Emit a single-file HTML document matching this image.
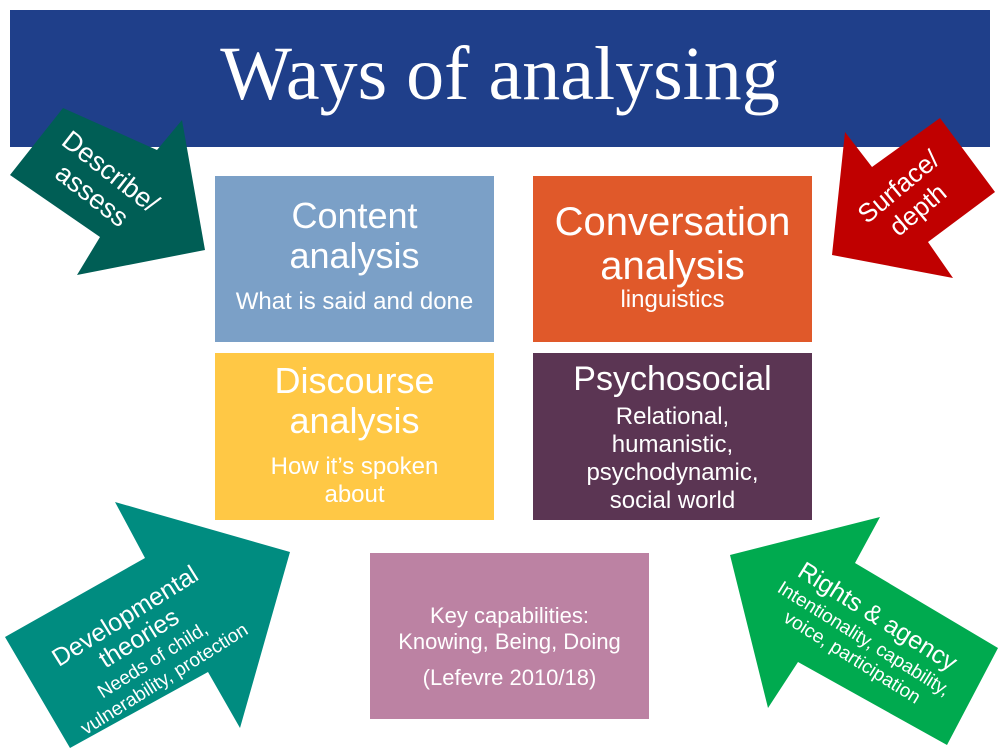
<!DOCTYPE html>
<html><head><style>
body{margin:0;width:1000px;height:750px;background:#fff;overflow:hidden;position:relative;font-family:"Liberation Sans",sans-serif}
.b{position:absolute;color:#fff;text-align:center;box-sizing:border-box}
</style></head><body>
<div class="b" style="left:10px;top:10px;width:980px;height:137px;background:#1F3F8A;font-family:'Liberation Serif',serif;font-size:76px;line-height:128px">Ways of analysing</div>
<div class="b" style="left:215px;top:176px;width:279px;height:166px;background:#7BA0C7;padding-top:20px"><div style="font-size:36px;line-height:40px">Content<br>analysis</div><div style="font-size:24px;margin-top:12px">What is said and done</div></div>
<div class="b" style="left:533px;top:176px;width:279px;height:166px;background:#E0592A;padding-top:24px"><div style="font-size:40px;line-height:44px">Conversation<br>analysis</div><div style="font-size:24px;margin-top:-2px">linguistics</div></div>
<div class="b" style="left:215px;top:353px;width:279px;height:167px;background:#FFC845;padding-top:8px"><div style="font-size:36px;line-height:40px">Discourse<br>analysis</div><div style="font-size:24px;line-height:28px;margin-top:12px">How it’s spoken<br>about</div></div>
<div class="b" style="left:533px;top:353px;width:279px;height:167px;background:#5B3553;padding-top:6px"><div style="font-size:34px;line-height:40px">Psychosocial</div><div style="font-size:24px;line-height:28px;margin-top:4px">Relational,<br>humanistic,<br>psychodynamic,<br>social world</div></div>
<div class="b" style="left:370px;top:553px;width:279px;height:166px;background:#BC82A3;padding-top:50px;font-size:22px;line-height:26px">Key capabilities:<br>Knowing, Being, Doing<div style="margin-top:10px">(Lefevre 2010/18)</div></div>
<svg width="1000" height="750" style="position:absolute;left:0;top:0" font-family="Liberation Sans, sans-serif" fill="#fff">
<polygon points="10,175 63,108 157,150 182,120 205,250 77,275 100,237" fill="#005E55"/>
<text transform="translate(100,185) rotate(38)" text-anchor="middle" font-size="27" fill="#fff"><tspan x="0" y="-8">Describe/</tspan><tspan x="0" y="22">assess</tspan></text>
<polygon points="845,132 872,167 940,118 995,192 928,242 953,278 832,255" fill="#C00000"/>
<text transform="translate(908,198) rotate(-40)" text-anchor="middle" font-size="26" fill="#fff"><tspan x="0" y="-6">Surface/</tspan><tspan x="0" y="24">depth</tspan></text>
<polygon points="5,637 145,558 115,502 290,552 240,728 208,672 70,748" fill="#008C80"/>
<text transform="translate(140,640) rotate(-32)" text-anchor="middle" fill="#fff"><tspan x="0" y="-20" font-size="25">Developmental</tspan><tspan x="0" y="6" font-size="25">theories</tspan><tspan x="0" y="30" font-size="19">Needs of child,</tspan><tspan x="0" y="52" font-size="19">vulnerability, protection</tspan></text>
<polygon points="730,555 880,517 855,563 998,648 947,745 798,662 768,708" fill="#00AA4F"/>
<text transform="translate(868,632) rotate(32)" text-anchor="middle" fill="#fff"><tspan x="0" y="-10" font-size="25">Rights &amp; agency</tspan><tspan x="0" y="14" font-size="19">Intentionality, capability,</tspan><tspan x="0" y="36" font-size="19">voice, participation</tspan></text>
</svg>
</body></html>
